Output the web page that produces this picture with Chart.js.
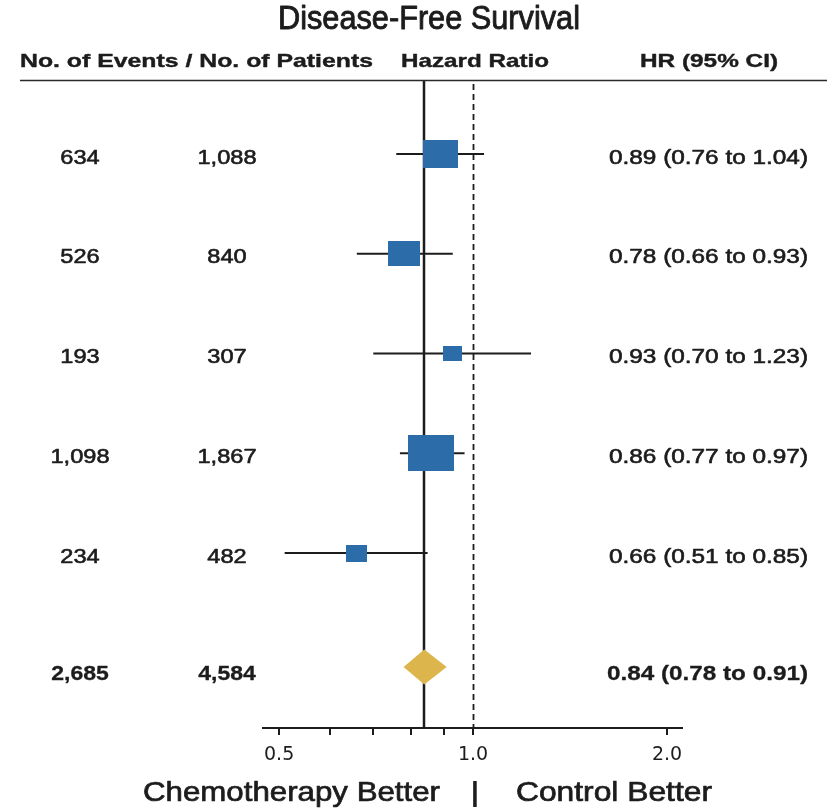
<!DOCTYPE html>
<html>
  <head>
    <script src="https://cdn.jsdelivr.net/npm/chart.js@4"></script>
    <style>
      body{
        margin: 0;
        background: #ffffff;
      }
      #wrap{
        width: 827px;
        height: 809px;
        position: relative;
      }
    </style>
  </head>
  <body>
    <div id="wrap"><canvas id="forest"></canvas></div>
    <script>
      // per-study rows
      var events = [634, 526, 193, 1098, 234];
      var patients = [1088, 840, 307, 1867, 482];
      var hazard = [0.89, 0.78, 0.93, 0.86, 0.66];
      var lower = [0.76, 0.66, 0.70, 0.77, 0.51];
      var upper = [1.04, 0.93, 1.23, 0.97, 0.85];

      // pooled estimate
      var totalEvents = 2685;
      var totalPatients = 4584;
      var pooledHR = 0.84;
      var pooledLower = 0.78;
      var pooledUpper = 0.91;

      var xTicks = [0.5, 0.6, 0.7, 0.8, 0.9, 1.0, 2.0];
      var xLabelled = [0.5, 1.0, 2.0];

      var BLUE = '#2b6ca9';
      var GOLD = '#dcb54c';
      var INK = '#1c1c1c';
      var SUMMARY_ROW = 5.143;

      function fmt(n){ return n.toLocaleString('en-US'); }
      function ciText(h, lo, hi){
        return h.toFixed(2) + ' (' + lo.toFixed(2) + ' to ' + hi.toFixed(2) + ')';
      }

      // square-ish marker, area grows with number of events
      function boxImage(n){
        var c = document.createElement('canvas');
        c.width = Math.round(1.38 * Math.sqrt(n));
        c.height = Math.round(1.1 * Math.sqrt(n));
        var g = c.getContext('2d');
        g.fillStyle = BLUE;
        g.fillRect(0, 0, c.width, c.height);
        return c;
      }

      // text with an optional horizontal stretch and a thin outline for weight
      function txt(ctx, str, x, y, font, align, sx, weight){
        ctx.save();
        ctx.font = font;
        ctx.fillStyle = INK;
        ctx.strokeStyle = INK;
        ctx.textBaseline = 'middle';
        ctx.textAlign = align;
        ctx.translate(x, y);
        ctx.scale(sx || 1, 1);
        ctx.fillText(str, 0, 0);
        if (weight){
          ctx.lineWidth = weight;
          ctx.lineJoin = 'round';
          ctx.strokeText(str, 0, 0);
        }
        ctx.restore();
      }
      function fitTxt(ctx, str, x, y, font, align, width, weight){
        ctx.save();
        ctx.font = font;
        var w = ctx.measureText(str).width;
        ctx.restore();
        txt(ctx, str, x, y, font, align, width / w, weight);
      }

      var forestPlugin = {
        id: 'forest',
        beforeDatasetsDraw: function(chart){
          var ctx = chart.ctx, area = chart.chartArea, xs = chart.scales.x;
          ctx.save();
          ctx.strokeStyle = INK;
          // pooled estimate line
          var px = Math.round(xs.getPixelForValue(pooledHR));
          ctx.lineWidth = 2.5;
          ctx.beginPath();
          ctx.moveTo(px, area.top);
          ctx.lineTo(px, area.bottom);
          ctx.stroke();
          // line of no effect
          var nx = Math.round(xs.getPixelForValue(1.0)) + 0.5;
          ctx.lineWidth = 1.8;
          ctx.setLineDash([6, 4]);
          ctx.beginPath();
          ctx.moveTo(nx, area.top + 4);
          ctx.lineTo(nx, area.bottom);
          ctx.stroke();
          ctx.restore();
        },
        afterDatasetsDraw: function(chart){
          var ctx = chart.ctx, xs = chart.scales.x, ys = chart.scales.y;
          var cy = ys.getPixelForValue(SUMMARY_ROW);
          ctx.save();
          ctx.fillStyle = GOLD;
          ctx.beginPath();
          ctx.moveTo(xs.getPixelForValue(pooledLower), cy);
          ctx.lineTo(xs.getPixelForValue(pooledHR), cy - 17.5);
          ctx.lineTo(xs.getPixelForValue(pooledUpper), cy);
          ctx.lineTo(xs.getPixelForValue(pooledHR), cy + 17.5);
          ctx.closePath();
          ctx.fill();
          ctx.restore();
        },
        afterDraw: function(chart){
          var ctx = chart.ctx, ys = chart.scales.y;
          var body = '20px "Liberation Sans", Arial, sans-serif';
          var bold = 'bold 20px "Liberation Sans", Arial, sans-serif';
          var head = 'bold 19px "Liberation Sans", Arial, sans-serif';

          fitTxt(ctx, 'Disease-Free Survival', 429, 20, '33px "Liberation Sans Narrow", "Liberation Sans", sans-serif', 'center', 302, 0.9);
          fitTxt(ctx, 'No. of Events / No. of Patients', 20, 62, head, 'left', 353, 0.4);
          fitTxt(ctx, 'Hazard Ratio', 475, 62, head, 'center', 148, 0.4);
          fitTxt(ctx, 'HR (95% CI)', 709, 62, head, 'center', 138, 0.4);

          ctx.save();
          ctx.strokeStyle = '#2a2a2a';
          ctx.lineWidth = 1.5;
          ctx.beginPath();
          ctx.moveTo(20, 80.5);
          ctx.lineTo(827, 80.5);
          ctx.stroke();
          ctx.restore();

          for (var i = 0; i < events.length; i++){
            var y = ys.getPixelForValue(i) + 4;
            txt(ctx, fmt(events[i]), 80, y, body, 'center', 1.18, 0.6);
            txt(ctx, fmt(patients[i]), 227, y, body, 'center', 1.18, 0.6);
            fitTxt(ctx, ciText(hazard[i], lower[i], upper[i]), 609, y, body, 'left', 199, 0.6);
          }
          var sy = ys.getPixelForValue(SUMMARY_ROW) + 7;
          txt(ctx, fmt(totalEvents), 80, sy, bold, 'center', 1.15, 0.3);
          txt(ctx, fmt(totalPatients), 227, sy, bold, 'center', 1.15, 0.3);
          fitTxt(ctx, ciText(pooledHR, pooledLower, pooledUpper), 607, sy, bold, 'left', 201, 0.3);

          var foot = '28px "Liberation Sans", Arial, sans-serif';
          fitTxt(ctx, 'Chemotherapy Better', 143, 793, foot, 'left', 297, 0.7);
          txt(ctx, '|', 475, 793, 'bold 28px "Liberation Sans", Arial, sans-serif', 'center', 1);
          fitTxt(ctx, 'Control Better', 516, 793, foot, 'left', 196, 0.7);
        }
      };

      var whiskers = hazard.map(function(h, i){
        return {
          type: 'line',
          data: [{x: lower[i], y: i}, {x: upper[i], y: i}],
          borderColor: INK,
          borderWidth: 2,
          pointRadius: 0,
          showLine: true,
          order: 1
        };
      });

      var boxes = {
        data: hazard.map(function(h, i){ return {x: h, y: i}; }),
        pointStyle: events.map(boxImage),
        pointRadius: 5,
        order: 0
      };

      var chartConfig = {
        type: 'scatter',
        data: { datasets: [boxes].concat(whiskers) },
        options: {
          responsive: true,
          maintainAspectRatio: false,
          animation: false,
          events: [],
          layout: { padding: { left: 263, right: 145, top: 80, bottom: 0 } },
          plugins: {
            legend: { display: false },
            tooltip: { enabled: false }
          },
          scales: {
            x: {
              type: 'logarithmic',
              min: 0.472,
              max: 2.11,
              afterBuildTicks: function(s){
                s.ticks = xTicks.map(function(v){ return {value: v}; });
              },
              afterFit: function(s){ s.height = 81; },
              ticks: {
                autoSkip: false,
                maxRotation: 0,
                padding: 9,
                color: INK,
                font: { family: 'DejaVu Sans', size: 19 },
                callback: function(v){
                  return xLabelled.indexOf(v) >= 0 ? v.toFixed(1) : '';
                }
              },
              grid: { drawOnChartArea: false, drawTicks: true, tickLength: 7, color: INK, lineWidth: 2 },
              border: { display: true, color: INK, width: 2 }
            },
            y: {
              type: 'linear',
              reverse: true,
              min: -0.742,
              max: 5.754,
              display: false
            }
          }
        },
        plugins: [forestPlugin]
      };

      var graph = new Chart(document.getElementById('forest'), chartConfig);
    </script>
  </body>
</html>
